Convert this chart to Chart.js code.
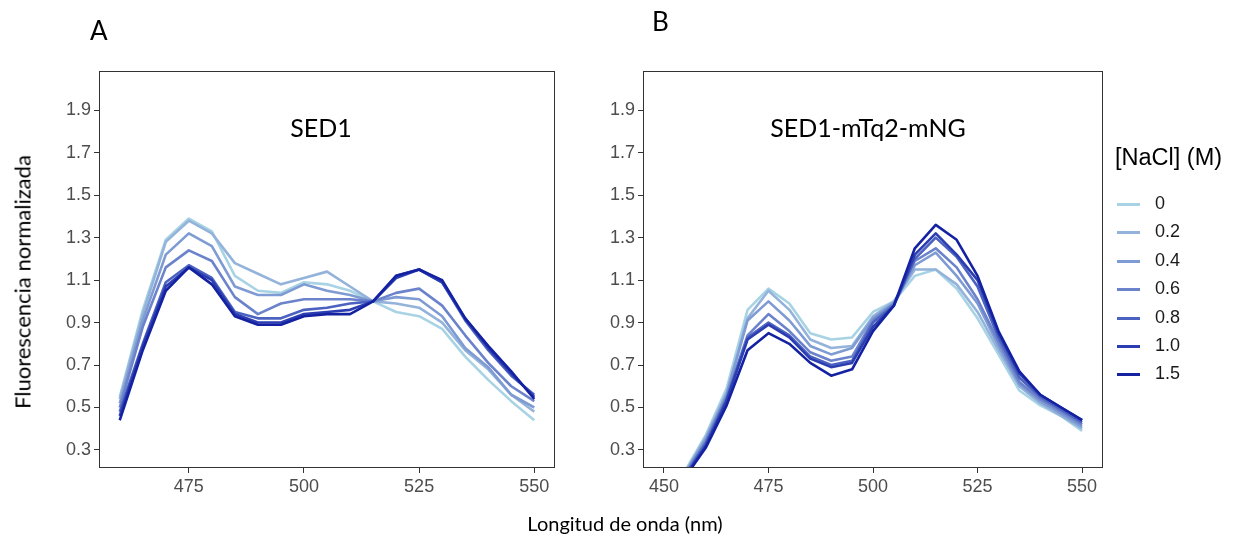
<!DOCTYPE html>
<html>
<head>
<meta charset="utf-8">
<script src="https://cdn.jsdelivr.net/npm/chart.js@4/dist/chart.umd.min.js"></script>
<style>
  html, body { margin:0; padding:0; background:#fff; }
  body { width:1245px; height:548px; position:relative; overflow:hidden; }
  canvas { position:absolute; top:0; }
  .txt { position:absolute; white-space:nowrap; color:#000; }
  .panel { font-family: Lato, "Open Sans", sans-serif; font-size:26px; }
  .ptitle { font-family: Lato, "Open Sans", sans-serif; font-size:25px; transform:translate(-50%,-50%); }
  .axt { font-family: Lato, "Open Sans", sans-serif; font-size:20px; }
  #legend { position:absolute; left:1115px; top:144px; font-family:"Liberation Sans", Arial, sans-serif; }
  #legend .lt { font-size:23.5px; color:#000; height:47px; }
  #legend .it { position:relative; height:28.4px; font-size:18px; color:#1a1a1a; }
  #legend .key { position:absolute; left:2px; top:12px; width:23px; height:3px; }
  #legend .lab { position:absolute; left:40px; top:2px; }
</style>
</head>
<body>
<canvas id="cA" width="580" height="548" style="left:0px"></canvas>
<canvas id="cB" width="520" height="548" style="left:600px"></canvas>

<div class="txt panel" style="left:90px; top:14px;">A</div>
<div class="txt panel" style="left:652px; top:5px;">B</div>
<div class="txt ptitle" style="left:321px; top:127px;">SED1</div>
<div class="txt ptitle" style="left:868px; top:127px;">SED1-mTq2-mNG</div>
<div class="txt axt" style="left:625px; top:523px; transform:translate(-50%,-50%);">Longitud de onda (nm)</div>
<div class="txt axt" style="left:22px; top:282px; font-size:22px; transform:translate(-50%,-50%) rotate(-90deg);">Fluorescencia normalizada</div>
<div id="legend"></div>

<script>
// ---- data ----
const concentrations = ['0', '0.2', '0.4', '0.6', '0.8', '1.0', '1.5'];
const legendTitle = '[NaCl] (M)';

const wavelengthA = [460,465,470,475,480,485,490,495,500,505,510,515,520,525,530,535,540,545,550];
const sed1_c00 = [0.55,0.96,1.29,1.39,1.33,1.12,1.05,1.04,1.09,1.08,1.05,1.00,0.95,0.93,0.87,0.74,0.63,0.53,0.44];
const sed1_c02 = [0.54,0.94,1.28,1.38,1.32,1.18,1.13,1.08,1.11,1.14,1.07,1.00,0.99,0.97,0.90,0.77,0.68,0.56,0.48];
const sed1_c04 = [0.52,0.91,1.22,1.32,1.26,1.07,1.03,1.03,1.08,1.05,1.03,1.00,1.02,1.01,0.93,0.78,0.69,0.56,0.50];
const sed1_c06 = [0.50,0.88,1.16,1.24,1.19,1.02,0.94,0.99,1.01,1.01,1.01,1.00,1.04,1.06,0.98,0.84,0.71,0.60,0.53];
const sed1_c08 = [0.48,0.80,1.09,1.17,1.11,0.95,0.92,0.92,0.96,0.97,0.99,1.00,1.12,1.15,1.09,0.91,0.77,0.65,0.56];
const sed1_c10 = [0.46,0.79,1.07,1.16,1.10,0.94,0.90,0.90,0.94,0.95,0.96,1.00,1.11,1.15,1.09,0.92,0.78,0.66,0.55];
const sed1_c15 = [0.44,0.77,1.05,1.16,1.08,0.93,0.89,0.89,0.93,0.94,0.94,1.00,1.12,1.15,1.10,0.92,0.79,0.67,0.54];

const wavelengthB = [450,455,460,465,470,475,480,485,490,495,500,505,510,515,520,525,530,535,540,545,550];
const fret_c00 = [0.12,0.20,0.37,0.59,0.96,1.06,0.99,0.85,0.82,0.83,0.95,1.00,1.12,1.15,1.06,0.92,0.75,0.58,0.51,0.46,0.39];
const fret_c02 = [0.11,0.19,0.36,0.57,0.92,1.05,0.96,0.82,0.78,0.79,0.93,1.00,1.15,1.15,1.08,0.95,0.77,0.60,0.52,0.46,0.40];
const fret_c04 = [0.10,0.19,0.35,0.56,0.91,1.00,0.91,0.79,0.75,0.78,0.92,0.99,1.17,1.23,1.12,0.99,0.79,0.61,0.53,0.47,0.41];
const fret_c06 = [0.10,0.18,0.34,0.55,0.84,0.94,0.86,0.76,0.72,0.74,0.91,0.99,1.19,1.25,1.16,1.01,0.81,0.62,0.54,0.48,0.42];
const fret_c08 = [0.09,0.18,0.33,0.54,0.83,0.90,0.84,0.74,0.70,0.72,0.90,0.98,1.20,1.30,1.21,1.07,0.83,0.64,0.55,0.49,0.43];
const fret_c10 = [0.09,0.17,0.32,0.53,0.82,0.89,0.83,0.73,0.69,0.71,0.88,0.98,1.22,1.32,1.22,1.10,0.85,0.66,0.56,0.50,0.44];
const fret_c15 = [0.08,0.17,0.31,0.51,0.77,0.85,0.80,0.71,0.65,0.68,0.86,0.98,1.25,1.36,1.29,1.12,0.86,0.67,0.56,0.50,0.44];

const yTicks  = [0.3,0.5,0.7,0.9,1.1,1.3,1.5,1.7,1.9];
const xTicksA = [475,500,525,550];
const xTicksB = [450,475,500,525,550];

// ---- style ----
const palette = ['#a8d3e4','#93b3db','#7f9bd3','#6b83cb','#4c62c0','#2b3db0','#1422a2'];

const boxPlugin = {
  id: 'panelBox',
  afterDraw(chart) {
    const a = chart.chartArea, ctx = chart.ctx;
    ctx.save();
    ctx.strokeStyle = '#333';
    ctx.lineWidth = 1;
    ctx.strokeRect(a.left + 0.5, a.top + 0.5, a.right - a.left - 1, a.bottom - a.top - 1);
    ctx.restore();
  }
};

function makeChart(id, xs, series, xMin, xMax, xTicks, yAxisWidth, padRight) {
  const n = series.length;
  return new Chart(document.getElementById(id), {
    type: 'line',
    data: {
      datasets: series.map((ys, i) => ({
        label: concentrations[i],
        data: xs.map((x, j) => ({ x: x, y: ys[j] })),
        borderColor: palette[i],
        backgroundColor: palette[i],
        borderWidth: 2.6,
        pointRadius: 0,
        tension: 0,
        fill: false,
        borderJoinStyle: 'round',
        order: n - 1 - i,
        clip: 0
      }))
    },
    options: {
      responsive: false,
      animation: false,
      devicePixelRatio: 1,
      events: [],
      layout: { padding: { top: 71, right: padRight, bottom: 40, left: 0 } },
      plugins: { legend: { display: false }, tooltip: { enabled: false }, title: { display: false } },
      scales: {
        x: {
          type: 'linear', min: xMin, max: xMax,
          afterBuildTicks: s => { s.ticks = xTicks.map(v => ({ value: v })); },
          afterFit: s => { s.height = 40; },
          grid: { display: true, drawOnChartArea: false, drawTicks: true, tickLength: 5, color: '#333', lineWidth: 1 },
          border: { display: false },
          ticks: { autoSkip: false, maxRotation: 0, color: '#4d4d4d', padding: 3,
                   font: { family: '"Liberation Sans", Arial, sans-serif', size: 18 },
                   callback: v => String(v) }
        },
        y: {
          type: 'linear', min: 0.215, max: 2.085,
          afterBuildTicks: s => { s.ticks = yTicks.map(v => ({ value: v })); },
          afterFit: s => { s.width = yAxisWidth; },
          grid: { display: true, drawOnChartArea: false, drawTicks: true, tickLength: 5, color: '#333', lineWidth: 1 },
          border: { display: false },
          ticks: { autoSkip: false, color: '#4d4d4d', padding: 3,
                   font: { family: '"Liberation Sans", Arial, sans-serif', size: 18 },
                   callback: v => Number(v).toFixed(1) }
        }
      }
    },
    plugins: [boxPlugin]
  });
}

makeChart('cA', wavelengthA, [sed1_c00, sed1_c02, sed1_c04, sed1_c06, sed1_c08, sed1_c10, sed1_c15],
          455.5, 554.5, xTicksA, 99, 25);
makeChart('cB', wavelengthB, [fret_c00, fret_c02, fret_c04, fret_c06, fret_c08, fret_c10, fret_c15],
          445, 555, xTicksB, 43, 17);

// legend (html)
const lg = document.getElementById('legend');
const t = document.createElement('div');
t.className = 'lt';
t.textContent = legendTitle;
lg.appendChild(t);
concentrations.forEach((c, i) => {
  const it = document.createElement('div');
  it.className = 'it';
  const k = document.createElement('div');
  k.className = 'key';
  k.style.background = palette[i];
  const l = document.createElement('div');
  l.className = 'lab';
  l.textContent = c;
  it.appendChild(k); it.appendChild(l);
  lg.appendChild(it);
});
</script>
</body>
</html>
